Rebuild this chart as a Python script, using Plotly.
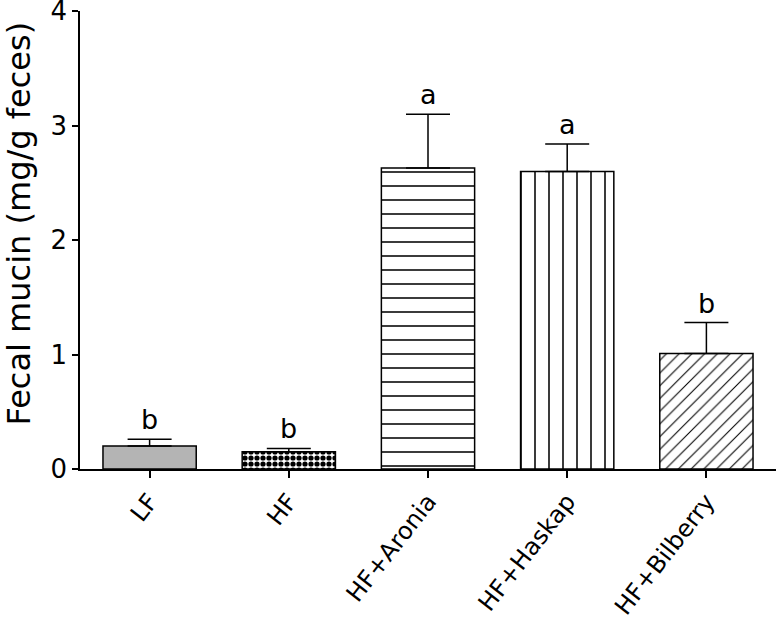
import plotly.graph_objects as go

groups = ["LF", "HF", "HF+Aronia", "HF+Haskap", "HF+Bilberry"]
means = [0.20, 0.15, 2.63, 2.60, 1.01]
sem = [0.06, 0.03, 0.47, 0.24, 0.27]
letters = ["b", "b", "a", "a", "b"]
y_ticks = [0, 1, 2, 3, 4]
y_title = "Fecal mucin (mg/g feces)"

fill_colors = ["#b4b4b4", "#ffffff", "#ffffff", "#ffffff", "#ffffff"]
pattern_shapes = ["", ".", "-", "|", "/"]
pattern_sizes = [8, 6, 14, 14, 9]
pattern_solidity = [0.3, 0.6, 0.11, 0.11, 0.12]

FONT = "DejaVu Sans, Verdana, sans-serif"

fig = go.Figure()
for i, g in enumerate(groups):
    marker = dict(color=fill_colors[i], line=dict(color="black", width=1.5))
    if pattern_shapes[i]:
        marker["pattern"] = dict(
            shape=pattern_shapes[i],
            size=pattern_sizes[i],
            solidity=pattern_solidity[i],
            fgcolor="black",
            bgcolor="white",
            fillmode="replace",
        )
    fig.add_trace(go.Bar(
        x=[g],
        y=[means[i]],
        marker=marker,
        error_y=dict(
            type="data",
            array=[sem[i]],
            arrayminus=[0],
            symmetric=False,
            color="black",
            thickness=1.5,
            width=22,
        ),
        width=0.67,
        showlegend=False,
    ))

for g, m, s, t in zip(groups, means, sem, letters):
    fig.add_annotation(
        x=g, y=m + s, text=t, showarrow=False,
        yanchor="bottom", xanchor="center", yshift=2,
        font=dict(family=FONT, size=27, color="black"),
    )

fig.add_annotation(
    xref="paper", yref="paper", x=-0.087, y=0.537,
    text=y_title, textangle=-90, showarrow=False,
    xanchor="center", yanchor="middle",
    font=dict(family=FONT, size=32, color="black"),
)

fig.update_layout(
    width=776, height=623,
    margin=dict(l=80, r=0, t=11, b=154, autoexpand=False),
    paper_bgcolor="white", plot_bgcolor="white",
    font=dict(family=FONT, color="black"),
    barmode="overlay",
)
fig.update_xaxes(
    range=[-0.5, 4.5], automargin=False,
    showline=True, linecolor="black", linewidth=1.5,
    ticks="outside", ticklen=7, tickwidth=1.5, tickcolor="black",
    tickangle=-52, tickfont=dict(family=FONT, size=24, color="black"),
    ticklabeloverflow="allow",
    showgrid=False, zeroline=False,
)
fig.update_yaxes(
    range=[0, 4.002], tickvals=y_ticks, automargin=False,
    showline=True, linecolor="black", linewidth=1.5,
    ticks="outside", ticklen=6, tickwidth=1.5, tickcolor="black",
    tickfont=dict(family=FONT, size=26, color="black"),
    ticklabeloverflow="allow",
    showgrid=False, zeroline=False,
)

fig.write_html(
    "out.html",
    config={"displayModeBar": False},
    post_script="document.body.style.margin='0';document.body.style.overflow='hidden';",
)
